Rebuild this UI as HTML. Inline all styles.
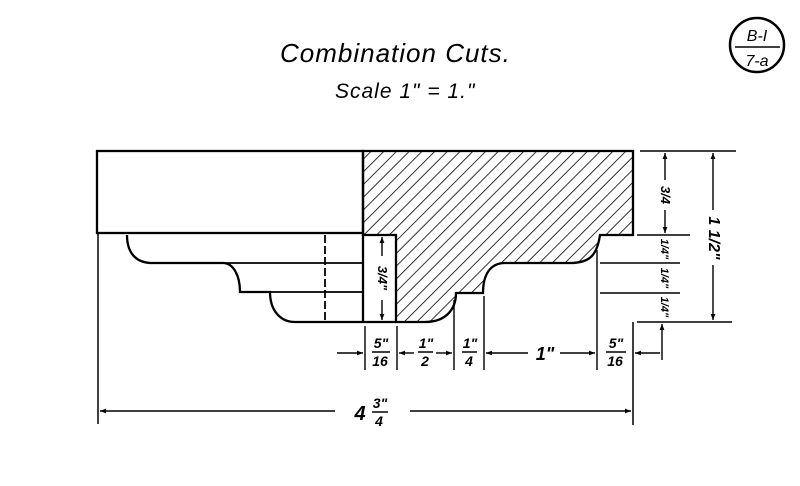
<!DOCTYPE html>
<html><head><meta charset="utf-8"><style>
html,body{margin:0;padding:0;background:#fff;}
svg{display:block;}
text{font-family:"Liberation Sans",sans-serif;font-style:italic;fill:#000;}
</style></head><body>
<svg width="800" height="486" viewBox="0 0 800 486" xmlns="http://www.w3.org/2000/svg">
<defs>
<pattern id="h" patternUnits="userSpaceOnUse" width="9" height="9" patternTransform="rotate(45)">
<line x1="0" y1="0" x2="0" y2="9" stroke="#000" stroke-width="1.6"/>
</pattern>
<marker id="a" viewBox="0 0 10 10" refX="10" refY="5" markerWidth="9" markerHeight="6" orient="auto-start-reverse" markerUnits="userSpaceOnUse"><path d="M0,1 L10,5 L0,9 Z" fill="#000"/></marker>
</defs>
<text x="280" y="62" font-size="26" letter-spacing="1">Combination  Cuts.</text>
<text x="335" y="98" font-size="21" letter-spacing="1">Scale 1" = 1."</text>
<circle cx="757" cy="45" r="27" fill="none" stroke="#000" stroke-width="2.5"/>
<line x1="735" y1="47" x2="780" y2="47" stroke="#000" stroke-width="1.5"/>
<text x="757" y="41" font-size="16" text-anchor="middle">B-I</text>
<text x="757" y="66" font-size="16" text-anchor="middle">7-a</text>

<g fill="none" stroke="#000" stroke-width="2.3">
<path d="M363,151 L633,151 L633,235 L600,235 C597,255 590,263 570,263 L505,263 C490,263 483,275 483,293 L456,293 C456,310 445,322 425,322 L396,322 L396,235 L363,235 Z" fill="url(#h)"/>
<rect x="97" y="151" width="266" height="82"/>
<path d="M127,235 C127,255 138,263 152,263 L223,263 C233,263 240,275 240,292 L270,292 C270,310 280,322 295,322 L396,322"/>
<line x1="363" y1="233" x2="363" y2="322"/>
<line x1="223" y1="263" x2="363" y2="263" stroke-width="1.8"/>
<line x1="240" y1="292" x2="363" y2="292" stroke-width="1.8"/>
<line x1="325" y1="235" x2="325" y2="322" stroke-dasharray="8,3" stroke-width="1.8"/>
<line x1="98" y1="233" x2="98" y2="424" stroke-width="1.5"/>
<line x1="633" y1="322" x2="633" y2="425" stroke-width="1.5"/>
</g>
<g stroke="#000" stroke-width="1.4" fill="none">
<line x1="382" y1="237" x2="382" y2="256" marker-start="url(#a)"/>
<line x1="382" y1="300" x2="382" y2="320" marker-end="url(#a)"/>
<line x1="640" y1="151" x2="736" y2="151"/>
<line x1="637" y1="235" x2="690" y2="235"/>
<line x1="600" y1="263" x2="680" y2="263"/>
<line x1="600" y1="293" x2="680" y2="293"/>
<line x1="637" y1="322" x2="732" y2="322"/>
<line x1="665" y1="153" x2="665" y2="180" marker-start="url(#a)"/>
<line x1="665" y1="210" x2="665" y2="233" marker-end="url(#a)"/>
<line x1="713" y1="153" x2="713" y2="210" marker-start="url(#a)"/>
<line x1="713" y1="265" x2="713" y2="320" marker-end="url(#a)"/>
<line x1="662" y1="360" x2="662" y2="324" marker-end="url(#a)"/>
<line x1="365" y1="326" x2="365" y2="370"/>
<line x1="397" y1="326" x2="397" y2="370"/>
<line x1="454" y1="300" x2="454" y2="370"/>
<line x1="484" y1="296" x2="484" y2="370"/>
<line x1="597" y1="250" x2="597" y2="370"/>
<line x1="337" y1="353" x2="363" y2="353" marker-end="url(#a)"/>
<line x1="399" y1="353" x2="414" y2="353" marker-start="url(#a)"/>
<line x1="436" y1="353" x2="452" y2="353" marker-end="url(#a)"/>
<line x1="486" y1="353" x2="528" y2="353" marker-start="url(#a)"/>
<line x1="560" y1="353" x2="595" y2="353" marker-end="url(#a)"/>
<line x1="660" y1="353" x2="635" y2="353" marker-end="url(#a)"/>
<line x1="100" y1="411" x2="335" y2="411" marker-start="url(#a)"/>
<line x1="410" y1="411" x2="631" y2="411" marker-end="url(#a)"/>
</g>
<g font-size="14" font-weight="bold" text-anchor="middle">
<text x="381" y="348">5"</text><line x1="372" y1="352" x2="390" y2="352" stroke="#000" stroke-width="1.5"/><text x="380" y="366">16</text>
<text x="426" y="348">1"</text><line x1="418" y1="352" x2="433" y2="352" stroke="#000" stroke-width="1.5"/><text x="425" y="366">2</text>
<text x="470" y="348">1"</text><line x1="462" y1="352" x2="477" y2="352" stroke="#000" stroke-width="1.5"/><text x="469" y="366">4</text>
<text x="545" y="360" font-size="18">1"</text>
<text x="616" y="348">5"</text><line x1="606" y1="352" x2="626" y2="352" stroke="#000" stroke-width="1.5"/><text x="615" y="366">16</text>
<text x="360" y="420" font-size="20">4</text>
<text x="380" y="408">3"</text><line x1="372" y1="412" x2="388" y2="412" stroke="#000" stroke-width="1.5"/><text x="379" y="426">4</text>
</g>
<g font-size="13" font-weight="bold" text-anchor="middle">
<text transform="translate(378,278) rotate(90)">3/4"</text>
<text transform="translate(661,195) rotate(90)">3/4</text>
<text transform="translate(661,249) rotate(90)" font-size="11">1/4"</text>
<text transform="translate(661,278) rotate(90)" font-size="11">1/4"</text>
<text transform="translate(661,307) rotate(90)" font-size="11">1/4"</text>
<text transform="translate(709,238) rotate(90)" font-size="16">1 1/2"</text>
</g>
</svg>
</body></html>
